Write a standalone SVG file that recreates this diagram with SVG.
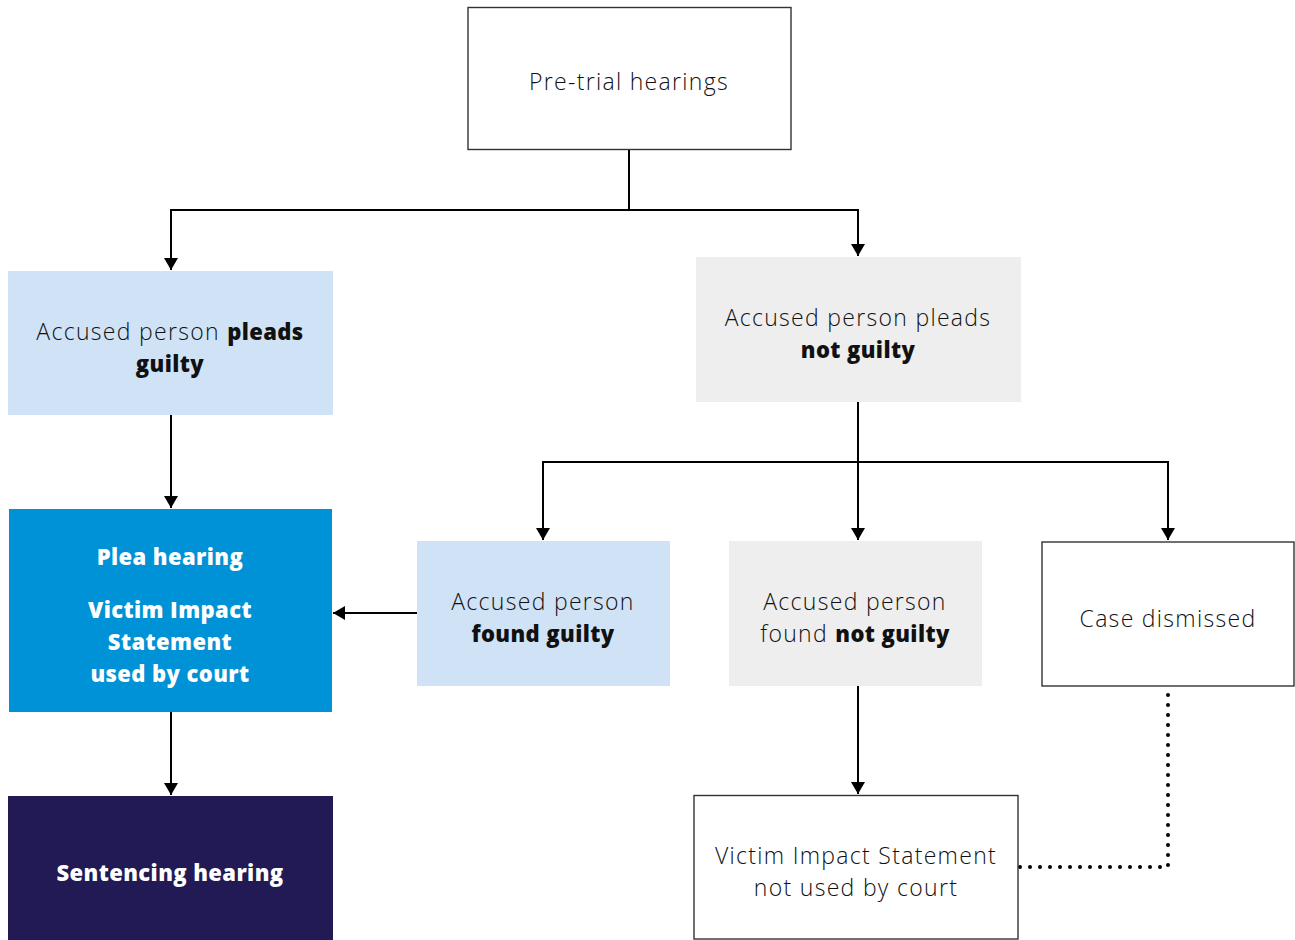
<svg xmlns="http://www.w3.org/2000/svg" width="1295" height="940" viewBox="0 0 1295 940">
<defs>
<marker id="arr" viewBox="0 0 12 14" refX="12" refY="7" markerWidth="12" markerHeight="14" markerUnits="userSpaceOnUse" orient="auto">
<path d="M0,0 L12,7 L0,14 Z" fill="#000"/>
</marker>
</defs>
<style>
text{font-family:"Open Sans","Lato","Liberation Sans",sans-serif;font-size:23px;text-anchor:middle;fill:#111;font-weight:300;letter-spacing:1.3px}
.b{font-weight:800;letter-spacing:0.4px;font-size:22px}
.w{fill:#fff;font-weight:800;letter-spacing:0.4px;font-size:22px}
.outl{fill:#fff;stroke:#333;stroke-width:1.4}
.line{fill:none;stroke:#000;stroke-width:2}
.dot{fill:none;stroke:#000;stroke-width:4;stroke-linecap:round;stroke-dasharray:0 10}
</style>
<rect width="1295" height="940" fill="#fff"/>
<g id="connectors">
<path class="line" d="M629,149 V210"/>
<path class="line" d="M629,210 H171 V270" marker-end="url(#arr)"/>
<path class="line" d="M629,210 H858 V256" marker-end="url(#arr)"/>
<path class="line" d="M171,415 V508" marker-end="url(#arr)"/>
<path class="line" d="M858,402 V540" marker-end="url(#arr)"/>
<path class="line" d="M858,462 H543 V540" marker-end="url(#arr)"/>
<path class="line" d="M858,462 H1168 V540" marker-end="url(#arr)"/>
<path class="line" d="M417,613 H333" marker-end="url(#arr)"/>
<path class="line" d="M171,712 V795" marker-end="url(#arr)"/>
<path class="line" d="M858,686 V794" marker-end="url(#arr)"/>
<path class="dot" d="M1020,867 H1168 V688"/>
</g>
<g id="pretrial">
<rect class="outl" x="468" y="7.5" width="323" height="142"/>
<text x="629" y="90">Pre-trial hearings</text>
</g>
<g id="pleads-guilty">
<rect x="8" y="271" width="325" height="144" fill="#d0e3f6"/>
<text x="170" y="340">Accused person <tspan class="b">pleads</tspan></text>
<text x="170" y="372" class="b">guilty</text>
</g>
<g id="pleads-not-guilty">
<rect x="696" y="257" width="325" height="145" fill="#eeeeee"/>
<text x="858" y="326">Accused person pleads</text>
<text x="858" y="358" class="b">not guilty</text>
</g>
<g id="plea-hearing">
<rect x="9" y="509" width="323" height="203" fill="#0092d6"/>
<text x="170" y="565" class="w">Plea hearing</text>
<text x="170" y="618" class="w">Victim Impact</text>
<text x="170" y="650" class="w">Statement</text>
<text x="170" y="682" class="w">used by court</text>
</g>
<g id="found-guilty">
<rect x="417" y="541" width="253" height="145" fill="#d0e3f6"/>
<text x="543" y="610">Accused person</text>
<text x="543" y="642" class="b">found guilty</text>
</g>
<g id="found-not-guilty">
<rect x="729" y="541" width="253" height="145" fill="#eeeeee"/>
<text x="855" y="610">Accused person</text>
<text x="855" y="642">found <tspan class="b">not guilty</tspan></text>
</g>
<g id="case-dismissed">
<rect class="outl" x="1042" y="542" width="252" height="144"/>
<text x="1168" y="627">Case dismissed</text>
</g>
<g id="sentencing">
<rect x="8" y="796" width="325" height="144" fill="#211a55"/>
<text x="170" y="881" class="w">Sentencing hearing</text>
</g>
<g id="vis-not-used">
<rect class="outl" x="694" y="795.5" width="324" height="143.5"/>
<text x="856" y="864">Victim Impact Statement</text>
<text x="856" y="896">not used by court</text>
</g>
</svg>
